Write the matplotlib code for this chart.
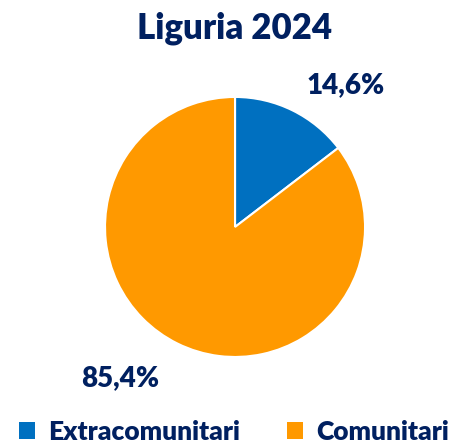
import matplotlib
matplotlib.use('Agg')
import matplotlib.pyplot as plt
from matplotlib.patches import Patch

# data
categories = ['Extracomunitari', 'Comunitari']
values = [14.6, 85.4]
value_labels = ['14,6%', '85,4%']
colors = ['#0070C0', '#FF9900']
title = 'Liguria 2024'
navy = '#002060'

plt.rcParams['font.family'] = ['Lato', 'DejaVu Sans']
plt.rcParams['font.weight'] = 'heavy'

fig = plt.figure(figsize=(4.68, 4.44), dpi=100)
ax = fig.add_axes([0.2244, 0.196, 0.5556, 0.5856])

wedges, _ = ax.pie(values, colors=colors, startangle=90, counterclock=False,
                   radius=1, wedgeprops=dict(edgecolor='white', linewidth=1.5))
ax.set_xlim(-1, 1)
ax.set_ylim(-1, 1)
ax.set_aspect('equal')

# data labels, placed like excel does it
label_pos = [(0.85, 1.09), (-0.88, -1.16)]
for (x, y), txt in zip(label_pos, value_labels):
    ax.text(x, y, txt, ha='center', va='center', fontsize=20,
            fontweight='heavy', color=navy, clip_on=False)

fig.text(0.502, 0.937, title, ha='center', va='center', fontsize=25,
         fontweight='heavy', color=navy)

handles = [Patch(facecolor=c, edgecolor='none') for c in colors]
leg = fig.legend(handles, categories, loc='center', bbox_to_anchor=(0.5, 0.027),
                 ncol=2, frameon=False, handlelength=0.6, handleheight=0.6,
                 handletextpad=0.5, columnspacing=1.8,
                 prop=dict(size=19, weight='heavy'))
for t in leg.get_texts():
    t.set_color(navy)

fig.savefig('out.png', dpi=100)
plt.close('all')
